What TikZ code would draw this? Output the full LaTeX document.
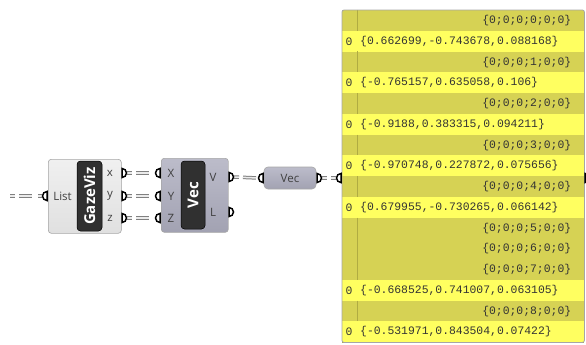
\documentclass[tikz,border=0pt]{standalone}
\usepackage{fontspec}
\setmainfont{Open Sans}
\newfontfamily\panelfont{Liberation Mono}
\usepackage{tikz}
\definecolor{ghgrey}{RGB}{224,224,224}
\definecolor{ghgreytop}{RGB}{240,240,240}
\definecolor{ghvec}{RGB}{162,162,178}
\definecolor{ghvectop}{RGB}{188,188,202}
\definecolor{ghbar}{RGB}{48,48,48}
\definecolor{panelhead}{RGB}{214,210,84}
\definecolor{panelrow}{RGB}{255,255,96}
\definecolor{panelline}{RGB}{176,172,66}
\newcommand{\rowh}{20.75}

\tikzset{
  compbox/.style={rounded corners=3pt,draw=black!35,line width=0.6pt},
  namebar/.style={fill=ghbar,draw=black,rounded corners=3.5pt,line width=0.5pt},
  barlabel/.style={text=white,font=\bfseries\fontsize{15}{15}\selectfont,rotate=90,inner sep=0},
  portlabel/.style={text=black!75,font=\fontsize{11.5}{13}\selectfont,inner sep=0},
  paneltext/.style={text=black!80,font=\panelfont\fontsize{11.4}{13}\selectfont,inner sep=0},
  rowcell/.style={minimum width=242pt,minimum height=\rowh pt,inner sep=0,anchor=north west},
  wire/.style={draw=black!50,double=white!92!black,double distance=1.5pt,line width=1pt,
               dash pattern=on 5pt off 4pt on 13pt off 6pt},
  outport/.pic={\draw[fill=white,line width=1.5pt] (0,4.5) arc (90:-90:4.5) -- cycle;},
  inport/.pic={\draw[fill=white,line width=1.5pt] (0,4.5) arc (90:270:4.5) -- cycle;}
}

\begin{document}
\begin{tikzpicture}[x=1pt,y=-1pt]
  \useasboundingbox (0,0) rectangle (586,345);

  % GazeViz component
  \node[compbox,top color=ghgreytop,bottom color=ghgrey,minimum width=73pt,minimum height=74pt,
        anchor=north west,inner sep=0] (gaze) at (48,159) {};
  \node[namebar,minimum width=25pt,minimum height=70pt,inner sep=0] (gazebar) at (89.5,196) {};
  \node[barlabel] at (gazebar) {GazeViz};
  \node[portlabel] (gazelist) at (62.5,196) {List};
  \node[portlabel] (gazex) at (110,173) {x};
  \node[portlabel] (gazey) at (110,196) {y};
  \node[portlabel] (gazez) at (110,218) {z};

  % Vec component
  \node[compbox,top color=ghvectop,bottom color=ghvec,minimum width=67pt,minimum height=74pt,
        anchor=north west,inner sep=0] (vec) at (161,158) {};
  \node[namebar,minimum width=24pt,minimum height=68pt,inner sep=0] (vecbar) at (193,195) {};
  \node[barlabel] at (vecbar) {Vec};
  \node[portlabel] (vecx) at (171,173) {X};
  \node[portlabel] (vecy) at (171,196) {Y};
  \node[portlabel] (vecz) at (171,218) {Z};
  \node[portlabel] (vecv) at (213,177) {V};
  \node[portlabel] (vecl) at (213,212) {L};

  % Vec parameter
  \node[compbox,rounded corners=4pt,top color=ghvectop,bottom color=ghvec,minimum width=52pt,
        minimum height=22pt,inner sep=0,portlabel] (vecparam) at (290,178) {Vec};

  % panel
  \foreach \k/\txt [count=\i] in {0/{0;0;0;0;0;0},1/{0.662699,-0.743678,0.088168},
      0/{0;0;0;1;0;0},1/{-0.765157,0.635058,0.106},0/{0;0;0;2;0;0},1/{-0.9188,0.383315,0.094211},
      0/{0;0;0;3;0;0},1/{-0.970748,0.227872,0.075656},0/{0;0;0;4;0;0},1/{0.679955,-0.730265,0.066142},
      0/{0;0;0;5;0;0},0/{0;0;0;6;0;0},0/{0;0;0;7;0;0},1/{-0.668525,0.741007,0.063105},
      0/{0;0;0;8;0;0},1/{-0.531971,0.843504,0.07422}}{%
    \ifnum\k=0\relax
      \node[rowcell,fill=panelhead] (row\i) at (342,{10+(\i-1)*\rowh}) {};
      \node[paneltext,anchor=east] (rowtxt\i) at ([xshift=-13pt]row\i.east) {\{\txt\}};
      \draw[panelline,line width=0.6pt] ([xshift=15pt]row\i.north west) -- ([xshift=15pt]row\i.south west);
    \else
      \node[rowcell,fill=panelrow] (row\i) at (342,{10+(\i-1)*\rowh}) {};
      \node[paneltext] (rowidx\i) at ([xshift=7pt]row\i.west) {0};
      \node[paneltext,anchor=west] (rowtxt\i) at ([xshift=18pt]row\i.west) {\{\txt\}};
    \fi
    \draw[panelline,line width=0.5pt] (row\i.south west) -- (row\i.south east);
  }
  \draw[black!35,line width=0.8pt,rounded corners=2pt] (row1.north west) rectangle (row16.south east);

  % port anchors
  \coordinate (srcend) at (10,196);
  \coordinate (inlist) at (47,196);
  \coordinate (outx) at (122,173);
  \coordinate (outy) at (122,196);
  \coordinate (outz) at (122,218);
  \coordinate (inx) at (160,173);
  \coordinate (iny) at (160,196);
  \coordinate (inz) at (160,218);
  \coordinate (outv) at (229,177);
  \coordinate (outl) at (229,212);
  \coordinate (inparam) at (263,178);
  \coordinate (outparam) at (317,178);
  \coordinate (inpanel) at (341,178);
  \coordinate (outpanel) at (585,178);

  % wires
  \draw[wire] (srcend) -- ([xshift=-5pt]inlist);
  \draw[wire] ([xshift=5pt]outx) -- ([xshift=-5pt]inx);
  \draw[wire] ([xshift=5pt]outy) -- ([xshift=-5pt]iny);
  \draw[wire] ([xshift=5pt]outz) -- ([xshift=-5pt]inz);
  \draw[wire] ([xshift=5pt]outv) -- ([xshift=-5pt]inparam);
  \draw[wire] ([xshift=5pt]outparam) -- ([xshift=-5pt]inpanel);

  % ports
  \foreach \p in {inlist,inx,iny,inz,inparam,inpanel}
    \pic at (\p) {inport};
  \foreach \p in {outx,outy,outz,outv,outl,outparam,outpanel}
    \pic at (\p) {outport};
\end{tikzpicture}
\end{document}
